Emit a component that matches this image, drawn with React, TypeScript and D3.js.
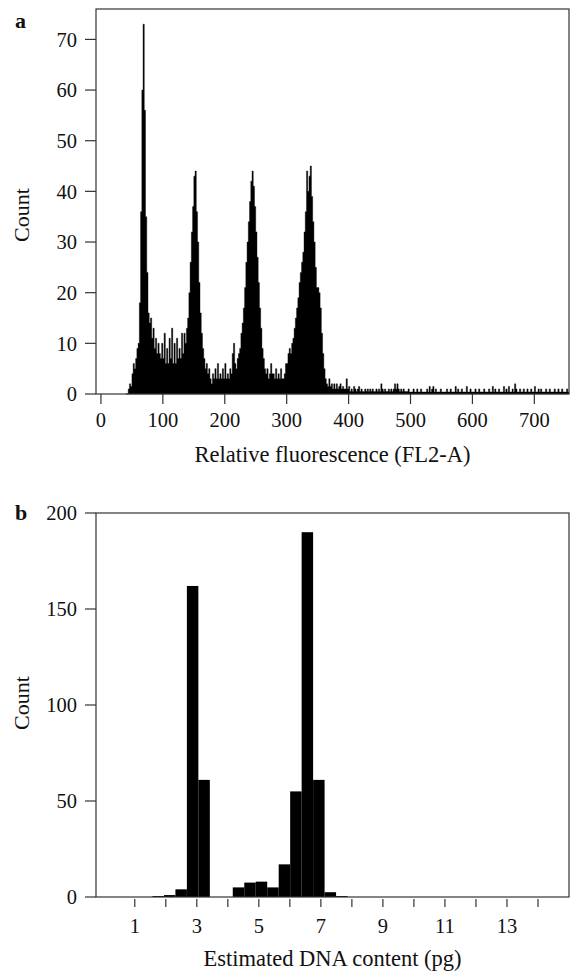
import React, { useEffect, useRef } from "react";
import * as d3 from "d3";

// panel a: relative fluorescence histogram, 2-channel bins starting at channel 40
const flBinStart = 40;
const flBinWidth = 2;
const flCounts = [
  0, 0, 1, 2, 1.5, 4, 6, 5, 7, 9, // 40
  10, 18, 36, 60, 73, 56, 35, 24, 16, 14, // 60
  15, 11, 13, 9, 11, 8, 10, 8, 7, 10, // 80
  7, 12, 6, 9, 6, 11, 7, 13, 6, 10, // 100
  6, 11, 7, 9, 7, 12, 8, 12, 10, 13, // 120
  15, 20, 26, 32, 37, 43, 44, 36, 30, 22, // 140
  16, 12, 9, 7, 5, 6, 4, 5, 3, 2, // 160
  4, 3, 5, 3, 6, 3, 4, 3, 5, 3, // 180
  6, 3, 4, 3, 5, 4, 8, 10, 6, 5, // 200
  7, 8, 9, 12, 14, 17, 21, 26, 30, 34, // 220
  38, 42, 44, 41, 37, 32, 27, 22, 17, 13, // 240
  9, 7, 5, 4, 5, 3, 4, 6, 4, 4, // 260
  3, 5, 3, 4, 3, 5, 3, 3, 4, 6, // 280
  6, 8, 9, 8, 10, 11, 13, 15, 17, 19, // 300
  22, 24, 26, 28, 32, 36, 44, 40, 43, 45, // 320
  39, 34, 30, 25, 21, 21, 20, 17, 12, 8, // 340
  5, 3, 2, 1.5, 3, 1.5, 2, 1, 2, 1, // 360
  2, 1, 1.5, 2, 1, 1.5, 1, 1, 3, 1, // 380
  1.5, 0.5, 1, 0.5, 1.5, 1, 0.5, 1, 1.5, 0.5, // 400
  1, 0.5, 0.5, 1, 0.5, 1, 0.5, 1, 0.5, 1, // 420
  0.5, 0.5, 1, 0.5, 1, 0.5, 2, 1, 0.5, 1, // 440
  0.5, 0.5, 1, 0.5, 1, 0.5, 1, 2, 1, 2, // 460
  1, 0.5, 1, 0.5, 1, 0.5, 0.5, 0.5, 1, 0.4, // 480
  0.4, 0.4, 1, 0.4, 0.4, 1, 0.4, 0.4, 1, 0.4, // 500
  0.4, 0.4, 0.4, 1, 0.4, 1.5, 0.4, 1, 1.5, 0.4, // 520
  1, 0.4, 0.4, 0.4, 1, 0.4, 0.4, 0.4, 0.4, 1, // 540
  0.4, 0.4, 1, 0.4, 0.4, 0.4, 1.5, 0.4, 1, 0.4, // 560
  0.4, 1, 0.4, 0.4, 0.4, 1.5, 0.4, 0.4, 1, 0.4, // 580
  0.4, 0.4, 1, 0.4, 0.4, 1, 0.4, 0.4, 0.4, 1, // 600
  0.4, 0.4, 0.4, 1, 0.4, 0.4, 1.5, 0.4, 1, 0.4, // 620
  0.4, 1, 0.4, 0.4, 0.4, 1.5, 0.4, 1, 0.4, 1.5, // 640
  0.4, 0.4, 1, 0.4, 2, 1, 0.4, 0.4, 1, 0.4, // 660
  0.4, 1, 0.4, 0.4, 1, 0.4, 0.4, 1, 0.4, 0.4, // 680
  1.5, 0.4, 0.4, 1, 0.4, 1, 0.4, 0.4, 0.4, 1, // 700
  0.4, 0.4, 1, 0.4, 0.4, 0.4, 1, 0.4, 0.4, 1, // 720
  0.4, 0.4, 1, 0.4, 0.4, 0.4, 1, 0.4, // 740
];
const flTicks = [0, 100, 200, 300, 400, 500, 600, 700];
const flCountTicks = [0, 10, 20, 30, 40, 50, 60, 70];

// panel b: estimated DNA content (pg)
const dnaBinStarts = [
  1.57, 1.94, 2.31, 2.68, 3.05, 3.42, 3.79, 4.16, 4.53, 4.9, 5.27, 5.64, 6.01,
  6.38, 6.75, 7.12, 7.49,
];
const dnaBinWidth = 0.37;
const dnaCounts = [0.5, 1, 4, 162, 61, 0, 0, 5, 7.5, 8, 5, 17, 55, 190, 61, 2.5, 0.5];
const dnaTicks = [1, 2, 3, 4, 5, 6, 7, 8, 9, 10, 11, 12, 13, 14];
const dnaTickLabels = [1, 3, 5, 7, 9, 11, 13];
const dnaCountTicks = [0, 50, 100, 150, 200];

const W = 572;
const H = 975;
const FONT = "'Liberation Serif', 'Times New Roman', serif";
const INK = "#111";

const App = () => {
  const svgRef = useRef<SVGSVGElement>(null);

  useEffect(() => {
    const svg = d3.select(svgRef.current);
    svg.selectAll("*").remove();

    const drawFrame = (x, y) => {
      svg
        .append("rect")
        .attr("x", x.range()[0])
        .attr("y", y.range()[1])
        .attr("width", x.range()[1] - x.range()[0])
        .attr("height", y.range()[0] - y.range()[1])
        .attr("fill", "none")
        .attr("stroke", "#333")
        .attr("stroke-width", 1.2);
    };

    const drawYAxis = (x, y, ticks, title, titleY) => {
      const left = x.range()[0];
      const g = svg.append("g");
      g.selectAll("line")
        .data(ticks)
        .join("line")
        .attr("x1", left - 11)
        .attr("x2", left)
        .attr("y1", (d) => y(d))
        .attr("y2", (d) => y(d))
        .attr("stroke", "#333")
        .attr("stroke-width", 1.2);
      g.selectAll("text")
        .data(ticks)
        .join("text")
        .attr("x", left - 19)
        .attr("y", (d) => y(d))
        .attr("dy", "0.35em")
        .attr("text-anchor", "end")
        .attr("font-family", FONT)
        .attr("font-size", 20.5)
        .attr("fill", INK)
        .text((d) => d);
      svg
        .append("text")
        .attr("transform", `translate(29, ${titleY}) rotate(-90)`)
        .attr("text-anchor", "middle")
        .attr("font-family", FONT)
        .attr("font-size", 22)
        .attr("fill", INK)
        .text(title);
    };

    const drawXAxis = (x, y, ticks, labels, gap, labelDy, title, titleDy) => {
      const bottom = y.range()[0];
      const g = svg.append("g");
      g.selectAll("line")
        .data(ticks)
        .join("line")
        .attr("x1", (d) => x(d))
        .attr("x2", (d) => x(d))
        .attr("y1", bottom + gap)
        .attr("y2", bottom + 10)
        .attr("stroke", "#333")
        .attr("stroke-width", 1.2);
      g.selectAll("text")
        .data(labels)
        .join("text")
        .attr("x", (d) => x(d))
        .attr("y", bottom + labelDy)
        .attr("text-anchor", "middle")
        .attr("font-family", FONT)
        .attr("font-size", 20.5)
        .attr("fill", INK)
        .text((d) => d);
      const [x0, x1] = x.range();
      svg
        .append("text")
        .attr("x", (x0 + x1) / 2)
        .attr("y", bottom + titleDy)
        .attr("text-anchor", "middle")
        .attr("font-family", FONT)
        .attr("font-size", 22.5)
        .attr("fill", INK)
        .text(title);
    };

    const panelLabel = (t, yPos) => {
      svg
        .append("text")
        .attr("x", 15)
        .attr("y", yPos)
        .attr("font-family", FONT)
        .attr("font-weight", "bold")
        .attr("font-size", 22)
        .attr("fill", INK)
        .text(t);
    };

    // ---- panel a
    const xA = d3.scaleLinear().domain([-8, 756]).range([96, 569]);
    const yA = d3.scaleLinear().domain([0, 76]).range([394, 9]);

    const flData = flCounts.map((c, i) => ({ ch: flBinStart + i * flBinWidth, c }));
    flData.push({ ch: flBinStart + flCounts.length * flBinWidth, c: 0 });

    const area = d3
      .area<{ ch: number; c: number }>()
      .x((d) => xA(d.ch))
      .y0(yA(0))
      .y1((d) => yA(d.c))
      .curve(d3.curveStepAfter);

    svg
      .append("path")
      .attr("d", area(flData))
      .attr("fill", "#000")
      .attr("stroke", "#000")
      .attr("stroke-width", 0.4);

    drawFrame(xA, yA);
    drawYAxis(xA, yA, flCountTicks, "Count", 215);
    drawXAxis(xA, yA, flTicks, flTicks, 0, 33, "Relative fluorescence (FL2-A)", 68);
    panelLabel("a", 28);

    // ---- panel b
    const xB = d3.scaleLinear().domain([-0.25, 15]).range([96, 569]);
    const yB = d3.scaleLinear().domain([0, 200]).range([897, 513]);

    svg
      .append("g")
      .selectAll("rect")
      .data(dnaCounts)
      .join("rect")
      .attr("x", (d, i) => xB(dnaBinStarts[i]))
      .attr("width", xB(dnaBinWidth) - xB(0))
      .attr("y", (d) => yB(d))
      .attr("height", (d) => yB(0) - yB(d))
      .attr("fill", "#000");

    drawFrame(xB, yB);
    drawYAxis(xB, yB, dnaCountTicks, "Count", 703);
    drawXAxis(xB, yB, dnaTicks, dnaTickLabels, 2, 36, "Estimated DNA content (pg)", 69);
    panelLabel("b", 520);
  }, []);

  return (
    <svg
      ref={svgRef}
      width={W}
      height={H}
      style={{ position: "absolute", left: 0, top: 0, background: "#fff" }}
    />
  );
};

export default App;
